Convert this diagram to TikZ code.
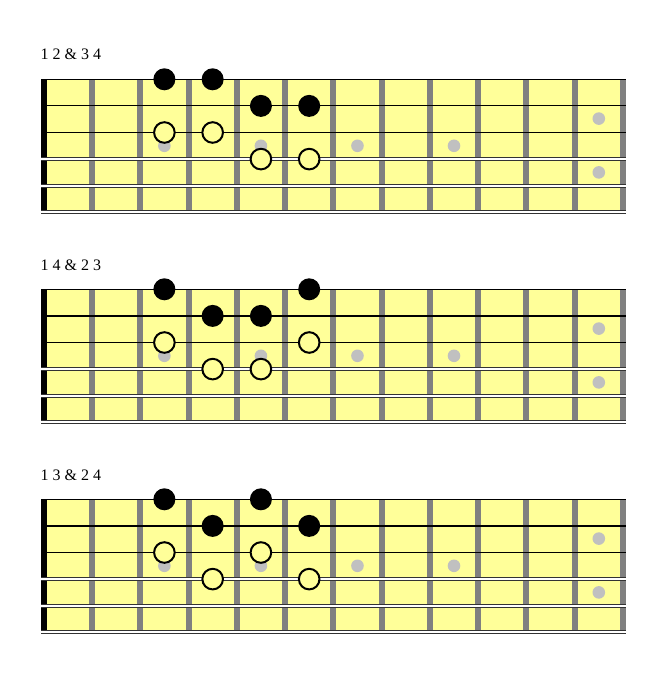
\documentclass[tikz,border=0pt]{standalone}
\usepackage{fontspec}
\setmainfont{Liberation Serif}
\definecolor{board}{HTML}{FFFF99}
\definecolor{fretgray}{HTML}{808080}
\definecolor{inlaygray}{HTML}{C0C0C0}

\begin{document}
\begin{tikzpicture}[x=1pt,y=-1pt,
  fretbar/.style={fill=fretgray},
  inlay/.style={fill=inlaygray},
  plain string/.style={line width=1.2pt},
  wound/.style={draw=black!80,line width=1pt,double=white,double distance=2pt},
  closed/.style={fill=black},
  open/.style={draw=black,line width=2pt,fill=board}]
\useasboundingbox (0,0) rectangle (659,684);
\foreach \oy/\lab/\n/\ta/\tb in {0/{1 2 \& 3 4}/a/{3,4}/{5,6},
  210/{1 4 \& 2 3}/b/{3,6}/{4,5}, 420/{1 3 \& 2 4}/c/{3,5}/{4,6}}{
\begin{scope}[shift={(0,\oy)}]
\node[anchor=base west,inner sep=0pt,font=\fontsize{16}{19}\selectfont] (lab\n) at (40.5,60) {\lab};
% board, nut and frets
\fill[board] (41,79.3) rectangle (626,212.3);
\fill (41,79.3) rectangle (47,212.3);
\foreach \k in {1,...,12}
  \fill[fretbar] ({40.7+48.27*\k},79.3) rectangle ++(6,133);
% inlays
\foreach \k in {3,5,7,9}
  \fill[inlay] ({19.57+48.27*\k},145.8) circle (6.3pt);
\fill[inlay] (598.8,118.6) circle (6.3pt);
\fill[inlay] (598.8,172.4) circle (6.3pt);
% strings
\foreach \s in {0,1,2}
  \draw[plain string] (41,{79.3+26.6*\s}) -- (626,{79.3+26.6*\s});
\foreach \s in {3,4,5}
  \draw[wound] (41,{79.3+26.6*\s}) -- (626,{79.3+26.6*\s});
% fingers
\foreach \f in \ta {
  \fill[closed] ({19.57+48.27*\f},79.3) circle (11pt);
  \draw[open] ({19.57+48.27*\f},132.5) circle (10.3pt);}
\foreach \f in \tb {
  \fill[closed] ({19.57+48.27*\f},105.9) circle (11pt);
  \draw[open] ({19.57+48.27*\f},159.1) circle (10.3pt);}
\end{scope}}
\end{tikzpicture}
\end{document}
